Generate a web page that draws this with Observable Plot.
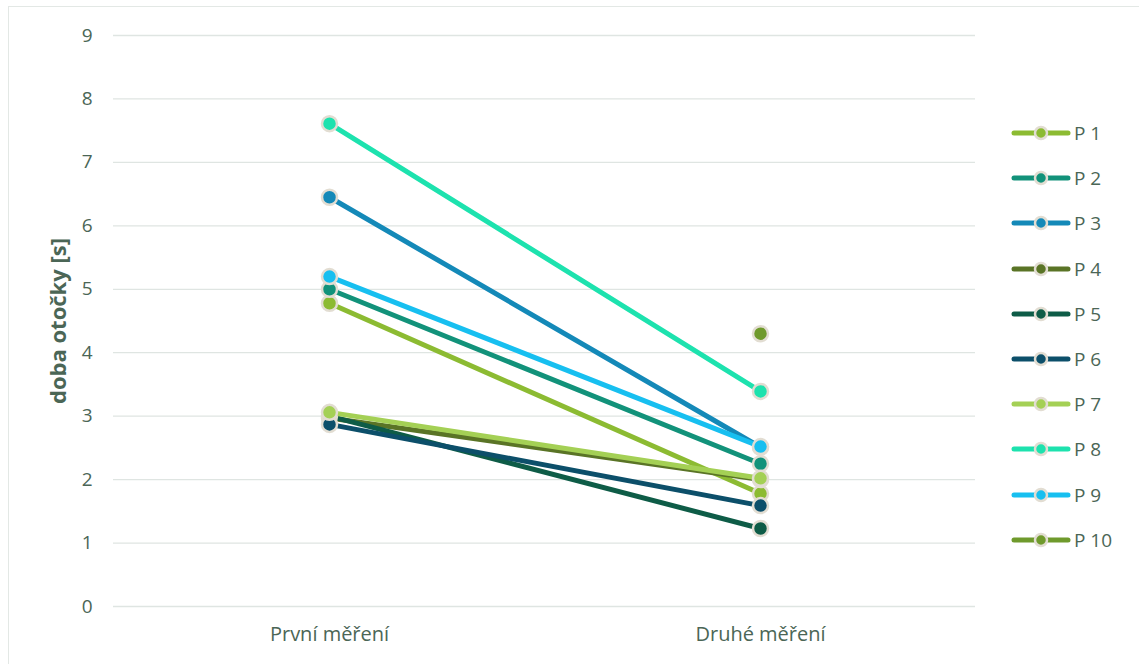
<!DOCTYPE html>
<html>
<head>
<meta charset="utf-8">
<script src="https://cdn.jsdelivr.net/npm/d3@7"></script>
<script src="https://cdn.jsdelivr.net/npm/@observablehq/plot@0.6"></script>
<style>
  html, body { margin: 0; padding: 0; background: #fff; }
  #wrap { position: relative; width: 1139px; height: 664px; overflow: hidden; font-family: "Open Sans", sans-serif; }
  #frame { position: absolute; left: 8px; top: 6px; width: 1200px; height: 700px; border: 1px solid #e3e8e5; box-sizing: border-box; }
  #chart { position: absolute; left: 0; top: 0; }
  #legend { position: absolute; left: 1010px; top: 0; }
  .item { position: absolute; left: 0; display: flex; align-items: center; white-space: nowrap; color: #4b6656; font-size: 19px; }
  .item svg { display: block; margin-right: 2px; }
</style>
</head>
<body>
<div id="wrap"><div id="frame"></div><div id="chart"></div><div id="legend"></div></div>
<script>
const categories = ["První měření", "Druhé měření"];
const series = ["P 1", "P 2", "P 3", "P 4", "P 5", "P 6", "P 7", "P 8", "P 9", "P 10"];
const firstValues = [4.78, 5.0, 6.45, 2.97, 3.0, 2.87, 3.06, 7.61, 5.2, null];
const secondValues = [1.78, 2.25, 2.51, 2.0, 1.23, 1.59, 2.02, 3.39, 2.52, 4.3];
const colors = ["#8cbb32", "#12927a", "#1489b8", "#5a7426", "#0e5c47", "#0c4f6a", "#a4d055", "#1de2ae", "#17bff0", "#6f9a2c"];
const yTicks = [0, 1, 2, 3, 4, 5, 6, 7, 8, 9];

const rows = [];
series.forEach((s, i) => {
  [firstValues[i], secondValues[i]].forEach((v, j) => {
    if (v != null) rows.push({series: s, cat: categories[j], value: v});
  });
});

const textColor = "#4b6656";
const marks = [
  Plot.gridY(yTicks, {stroke: "#dfe5e2", strokeOpacity: 1, strokeWidth: 1.3})
];
series.forEach((s, i) => {
  const d = rows.filter(r => r.series === s);
  marks.push(Plot.line(d, {x: "cat", y: "value", stroke: colors[i], strokeWidth: 5, strokeLinecap: "round"}));
  marks.push(Plot.dot(d, {x: "cat", y: "value", r: 7.5, fill: colors[i], stroke: "#e2ddd2", strokeWidth: 2.5}));
});
marks.push(Plot.axisY(yTicks, {tickSize: 0, tickPadding: 21, fontSize: 19, tickFormat: d3.format("d"), color: textColor, label: null}));
marks.push(Plot.axisX({tickSize: 0, tickPadding: 20, fontSize: 20, color: textColor, label: null}));
marks.push(Plot.text(["doba otočky [s]"], {frameAnchor: "left", textAnchor: "middle", dx: -55, rotate: -90, fontSize: 22, fontWeight: "bold", fill: textColor}));

const chart = Plot.plot({
  width: 1000,
  height: 664,
  marginLeft: 113,
  marginRight: 25,
  marginTop: 35,
  marginBottom: 58,
  style: {fontFamily: "Open Sans, sans-serif", fontSize: "18px", background: "transparent", overflow: "visible"},
  x: {type: "point", domain: categories, padding: 0.5},
  y: {domain: [0, 9]},
  marks
});
document.getElementById("chart").appendChild(chart);

const legend = document.getElementById("legend");
series.forEach((s, i) => {
  const item = document.createElement("div");
  item.className = "item";
  item.style.top = (133 + i * 45.2 - 13) + "px";
  item.innerHTML = `<svg width="62" height="26"><line x1="4" y1="13" x2="58" y2="13" stroke="${colors[i]}" stroke-width="5" stroke-linecap="round"/><circle cx="31" cy="13" r="6" fill="${colors[i]}" stroke="#e2ddd2" stroke-width="2.5"/></svg><span>${s}</span>`;
  legend.appendChild(item);
});
</script>
</body>
</html>
